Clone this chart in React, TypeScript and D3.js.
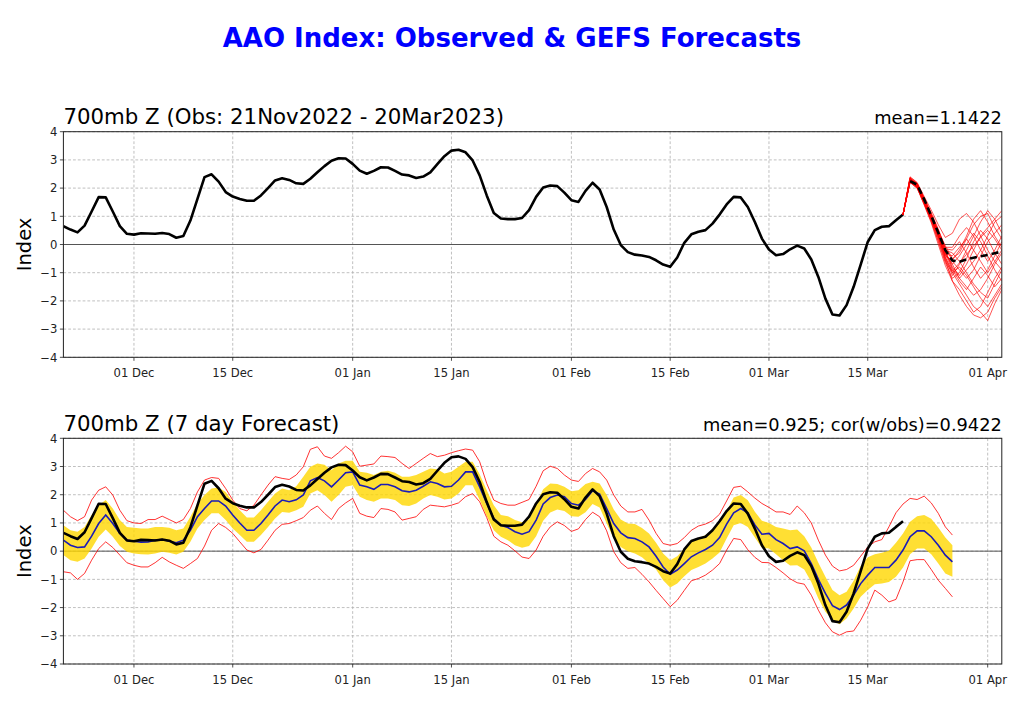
import React from "react";
import * as d3 from "d3";

// ---------------- DATA ----------------
const mainTitle = "AAO Index: Observed & GEFS Forecasts";
const topTitle = "700mb Z (Obs: 21Nov2022 - 20Mar2023)";
const topStat = "mean=1.1422";
const bottomTitle = "700mb Z (7 day Forecast)";
const bottomStat = "mean=0.925; cor(w/obs)=0.9422";
const yLabel = "Index";

const startDay = "2022-11-21"; // first data day (and left axis limit)
const endDay = "2023-04-03"; // right axis limit
const tickDays = ["2022-12-01", "2022-12-15", "2023-01-01", "2023-01-15", "2023-02-01", "2023-02-15", "2023-03-01", "2023-03-15", "2023-04-01"];
const yTicks = [-4, -3, -2, -1, 0, 1, 2, 3, 4];

// Observed daily AAO index, 21 Nov 2022 .. 20 Mar 2023
const obs = [
  0.65, 0.53, 0.43, 0.67, 1.17, 1.68, 1.67, 1.17, 0.65, 0.38,
  0.35, 0.40, 0.39, 0.38, 0.41, 0.37, 0.24, 0.30, 0.85, 1.62,
  2.39, 2.49, 2.23, 1.86, 1.70, 1.61, 1.55, 1.55, 1.74, 2.00,
  2.27, 2.35, 2.29, 2.17, 2.15, 2.33, 2.56, 2.78, 2.97, 3.06,
  3.05, 2.86, 2.62, 2.51, 2.61, 2.74, 2.73, 2.61, 2.48, 2.45,
  2.36, 2.41, 2.56, 2.85, 3.13, 3.33, 3.36, 3.27, 2.98, 2.45,
  1.74, 1.12, 0.92, 0.90, 0.90, 0.94, 1.22, 1.69, 2.02, 2.09,
  2.07, 1.84, 1.57, 1.51, 1.90, 2.19, 1.95, 1.33, 0.53, -0.02,
  -0.27, -0.36, -0.39, -0.44, -0.56, -0.71, -0.79, -0.46, 0.06, 0.36,
  0.45, 0.51, 0.74, 1.06, 1.42, 1.69, 1.67, 1.33, 0.80, 0.21,
  -0.18, -0.38, -0.34, -0.17, -0.04, -0.14, -0.53, -1.15, -1.92, -2.48,
  -2.52, -2.15, -1.50, -0.71, 0.09, 0.51, 0.63, 0.65, 0.86, 1.06,
];

// GEFS ensemble members (top panel), daily from 20 Mar 2023 .. 03 Apr 2023
const ensStartDay = "2023-03-20";
const ensMembers = [
  [1.06, 2.30, 2.15, 1.60, 1.02, 0.40, -0.25, -0.80, -1.10, -0.70, -0.20, 0.30, 0.60, 0.90, 1.20],
  [1.06, 2.25, 2.05, 1.50, 0.92, 0.30, -0.45, -1.00, -1.40, -1.80, -2.20, -2.40, -2.70, -2.10, -1.60],
  [1.06, 2.40, 2.20, 1.70, 1.22, 0.70, 0.25, 0.40, 0.90, 1.10, 0.80, 0.30, -0.20, -0.60, -0.90],
  [1.06, 2.20, 2.00, 1.45, 0.82, 0.10, -0.65, -1.20, -1.00, -0.50, 0.10, 0.50, 0.20, -0.30, -0.70],
  [1.06, 2.35, 2.10, 1.55, 1.07, 0.50, -0.05, -0.50, -0.30, 0.20, 0.70, 1.00, 1.10, 0.60, 0.20],
  [1.06, 2.28, 2.08, 1.50, 0.97, 0.35, -0.35, -0.90, -1.30, -1.60, -1.20, -0.80, -1.10, -1.50, -1.20],
  [1.06, 2.32, 2.12, 1.65, 1.12, 0.55, -0.15, -0.20, 0.10, -0.30, -0.80, -1.20, -0.90, -0.40, 0.10],
  [1.06, 2.22, 2.02, 1.40, 0.77, 0.00, -0.75, -1.30, -1.60, -2.00, -2.40, -2.20, -1.70, -1.20, -0.80],
  [1.06, 2.38, 2.18, 1.62, 1.04, 0.45, -0.30, -0.70, -0.40, 0.00, 0.40, 0.10, -0.40, -0.90, -1.30],
  [1.06, 2.26, 2.06, 1.48, 0.90, 0.25, -0.40, -0.60, -0.90, -1.20, -0.90, -0.40, 0.10, 0.40, 0.70],
  [1.06, 2.34, 2.14, 1.58, 1.00, 0.38, -0.20, -0.30, -0.60, -1.00, -1.40, -1.70, -1.90, -1.40, -0.90],
  [1.06, 2.24, 2.04, 1.52, 0.94, 0.32, -0.50, -1.10, -0.70, -0.20, 0.30, 0.80, 1.20, 0.90, 0.40],
  [1.06, 2.30, 2.10, 1.56, 0.98, 0.35, -0.35, -0.70, -1.20, -1.50, -1.80, -1.60, -1.20, -0.70, -0.30],
  [1.06, 2.36, 2.16, 1.64, 1.08, 0.48, -0.10, -0.10, 0.30, 0.60, 0.30, -0.20, -0.60, -0.20, 0.30],
  [1.06, 2.20, 2.00, 1.42, 0.84, 0.15, -0.60, -1.00, -0.80, -1.10, -1.50, -1.90, -2.20, -1.80, -1.40],
  [1.06, 2.28, 2.08, 1.54, 0.96, 0.34, -0.33, -0.40, -0.10, 0.20, -0.20, -0.60, -1.00, -0.60, -0.20],
  [1.06, 2.32, 2.12, 1.58, 1.02, 0.42, -0.23, -0.85, -1.20, -0.90, -0.60, -0.20, 0.30, 0.80, 1.00],
  [1.06, 2.26, 2.06, 1.46, 0.88, 0.22, -0.55, -1.30, -1.80, -2.20, -2.50, -2.60, -2.40, -1.90, -1.50],
  [1.06, 2.34, 2.14, 1.60, 1.04, 0.44, -0.15, -0.55, -0.20, 0.30, 0.90, 1.20, 0.80, 0.30, -0.10],
  [1.06, 2.24, 2.04, 1.48, 0.92, 0.28, -0.47, -0.95, -0.65, -0.35, -0.05, 0.25, 0.50, 0.20, -0.20],
];

// Ensemble mean (dashed), daily from 21 Mar 2023 .. 03 Apr 2023
const ensMeanStartDay = "2023-03-21";
const ensMean = [2.25, 2.12, 1.60, 1.02, 0.42, -0.20, -0.57, -0.61, -0.53, -0.47, -0.42, -0.37, -0.31, -0.25];

// 7-day forecast (bottom panel), daily from 21 Nov 2022 .. 27 Mar 2023
const fcMean = [
  0.39, 0.21, 0.13, 0.15, 0.53, 0.98, 1.28, 0.98, 0.63, 0.39,
  0.35, 0.32, 0.33, 0.39, 0.41, 0.35, 0.30, 0.39, 0.74, 1.22,
  1.51, 1.78, 1.78, 1.60, 1.28, 1.00, 0.74, 0.74, 0.98, 1.28,
  1.60, 1.81, 1.75, 1.82, 1.99, 2.49, 2.61, 2.49, 2.28, 2.52,
  2.78, 2.81, 2.34, 2.28, 2.19, 2.36, 2.36, 2.28, 2.14, 2.10,
  2.16, 2.30, 2.46, 2.40, 2.28, 2.30, 2.52, 2.81, 2.81, 2.28,
  1.69, 1.16, 0.92, 0.84, 0.69, 0.60, 0.69, 1.10, 1.67, 1.90,
  1.99, 1.93, 1.69, 1.63, 1.83, 2.14, 2.02, 1.51, 0.98, 0.65,
  0.48, 0.45, 0.33, 0.15, -0.18, -0.56, -0.82, -0.67, -0.44, -0.20,
  -0.06, 0.06, 0.21, 0.48, 0.96, 1.36, 1.51, 1.36, 0.93, 0.60,
  0.63, 0.41, 0.27, 0.09, 0.15, 0.01, -0.44, -1.00, -1.50, -1.93,
  -2.07, -1.91, -1.56, -1.15, -0.85, -0.58, -0.58, -0.58, -0.32, 0.04,
  0.51, 0.72, 0.72, 0.51, 0.21, -0.14, -0.38,
];
const fcBandUpper = [
  0.92, 0.74, 0.69, 0.86, 1.28, 1.63, 1.81, 1.51, 1.10, 0.86,
  0.83, 0.80, 0.80, 0.86, 0.86, 0.83, 0.74, 0.80, 1.22, 1.69,
  1.99, 2.22, 2.26, 2.10, 1.75, 1.45, 1.19, 1.19, 1.45, 1.75,
  2.04, 2.22, 2.16, 2.30, 2.64, 2.99, 3.11, 3.06, 2.87, 3.11,
  3.20, 3.20, 2.81, 2.78, 2.70, 2.81, 2.85, 2.78, 2.64, 2.64,
  2.70, 2.81, 2.93, 2.90, 2.75, 2.81, 2.99, 3.17, 3.17, 2.73,
  2.16, 1.63, 1.28, 1.24, 1.10, 1.02, 1.12, 1.67, 2.19, 2.40,
  2.38, 2.28, 2.12, 2.16, 2.38, 2.46, 2.40, 1.99, 1.48, 1.12,
  0.98, 0.96, 0.82, 0.63, 0.30, -0.08, -0.32, -0.18, 0.09, 0.33,
  0.45, 0.57, 0.74, 1.02, 1.42, 1.90, 1.99, 1.80, 1.40, 1.08,
  1.00, 0.86, 0.80, 0.74, 0.77, 0.53, 0.13, -0.41, -0.91, -1.38,
  -1.56, -1.44, -1.05, -0.53, -0.22, -0.11, -0.06, 0.01, 0.30, 0.63,
  1.04, 1.24, 1.28, 1.15, 0.84, 0.48, 0.21,
];
const fcBandLower = [
  -0.14, -0.32, -0.38, -0.26, 0.09, 0.51, 0.77, 0.51, 0.18, -0.02,
  -0.08, -0.11, -0.12, -0.08, -0.02, -0.06, -0.12, -0.02, 0.33, 0.80,
  1.10, 1.34, 1.34, 1.10, 0.80, 0.57, 0.33, 0.33, 0.57, 0.86,
  1.16, 1.39, 1.36, 1.45, 1.57, 2.04, 2.16, 1.99, 1.75, 1.99,
  2.28, 2.34, 1.93, 1.81, 1.75, 1.87, 1.87, 1.81, 1.63, 1.60,
  1.69, 1.87, 1.99, 1.93, 1.83, 1.87, 2.04, 2.34, 2.34, 1.81,
  1.24, 0.74, 0.51, 0.39, 0.21, 0.12, 0.18, 0.53, 1.08, 1.37,
  1.48, 1.42, 1.24, 1.22, 1.38, 1.67, 1.55, 0.98, 0.45, 0.15,
  0.00, -0.08, -0.22, -0.44, -0.65, -1.03, -1.29, -1.15, -0.89, -0.67,
  -0.56, -0.44, -0.26, -0.05, 0.45, 0.92, 1.00, 0.86, 0.48, 0.12,
  0.09, -0.11, -0.32, -0.51, -0.50, -0.65, -1.09, -1.68, -2.15, -2.45,
  -2.59, -2.39, -2.03, -1.62, -1.38, -1.17, -1.15, -1.09, -0.91, -0.58,
  -0.11, 0.09, 0.09, -0.11, -0.44, -0.79, -0.91,
];
const fcMax = [
  1.45, 1.22, 1.08, 1.22, 1.81, 2.16, 2.28, 1.99, 1.45, 1.08,
  1.00, 0.98, 1.12, 1.12, 1.24, 1.12, 1.00, 1.12, 1.51, 2.10,
  2.52, 2.61, 2.58, 2.22, 1.81, 1.51, 1.43, 1.63, 1.99, 2.34,
  2.64, 2.58, 2.54, 2.70, 2.99, 3.61, 3.70, 3.37, 3.29, 3.49,
  3.72, 3.52, 3.01, 3.05, 3.09, 3.37, 3.35, 3.32, 3.11, 2.93,
  3.11, 3.29, 3.46, 3.35, 3.40, 3.49, 3.56, 3.62, 3.58, 3.17,
  2.40, 1.81, 1.69, 1.63, 1.63, 1.73, 1.83, 2.30, 2.85, 3.01,
  2.93, 2.70, 2.52, 2.47, 2.75, 2.93, 2.81, 2.52, 1.99, 1.60,
  1.39, 1.39, 1.48, 1.10, 0.63, 0.27, 0.21, 0.27, 0.48, 0.74,
  0.89, 0.96, 1.08, 1.31, 1.78, 2.26, 2.30, 2.10, 1.88, 1.69,
  1.55, 1.39, 1.39, 1.30, 1.60, 1.36, 1.00, 0.39, -0.14, -0.53,
  -0.70, -0.65, -0.50, -0.18, 0.15, 0.33, 0.41, 0.86, 1.36, 1.67,
  1.87, 1.83, 1.95, 1.71, 1.34, 0.86, 0.57,
];
const fcMin = [
  -0.73, -0.77, -1.00, -0.79, -0.32, 0.09, 0.33, 0.13, -0.14, -0.41,
  -0.50, -0.56, -0.56, -0.41, -0.22, -0.38, -0.50, -0.61, -0.44, -0.26,
  0.18, 0.74, 0.98, 0.84, 0.63, 0.33, 0.04, -0.06, 0.06, 0.39,
  0.74, 0.95, 0.98, 1.08, 1.19, 1.45, 1.60, 1.34, 1.12, 1.51,
  1.71, 1.87, 1.34, 1.24, 1.19, 1.51, 1.48, 1.39, 1.10, 1.16,
  1.22, 1.48, 1.63, 1.60, 1.57, 1.63, 1.71, 1.93, 2.04, 1.75,
  1.19, 0.53, 0.33, 0.21, 0.01, -0.21, -0.26, 0.04, 0.53, 0.86,
  1.04, 0.91, 0.70, 0.79, 1.12, 1.38, 1.22, 0.72, -0.02, -0.41,
  -0.61, -0.58, -0.82, -1.09, -1.39, -1.68, -1.97, -1.74, -1.39, -1.05,
  -0.97, -0.85, -0.67, -0.44, 0.04, 0.45, 0.41, 0.05, -0.22, -0.40,
  -0.41, -0.58, -0.77, -0.98, -1.12, -1.17, -1.56, -2.09, -2.54, -2.86,
  -2.98, -2.86, -2.83, -2.45, -1.97, -1.38, -1.56, -1.80, -1.71, -1.09,
  -0.34, -0.30, -0.30, -0.65, -1.03, -1.32, -1.62,
];

// ---------------- LAYOUT ----------------
const W = 1024;
const H = 709;
const PLOT_LEFT = 63.4;
const PLOT_RIGHT = 1001.8;
const FONT = "DejaVu Sans, Liberation Sans, sans-serif";

const parse = d3.utcParse("%Y-%m-%d");
const fmt = d3.utcFormat("%d %b");
const dayOf = (start: string, i: number) => d3.utcDay.offset(parse(start) as Date, i);

const x = d3.scaleUtc().domain([parse(startDay) as Date, parse(endDay) as Date]).range([PLOT_LEFT, PLOT_RIGHT]);

function minusFmt(v: number) {
  return v < 0 ? "\u2212" + Math.abs(v) : String(v);
}

type PanelProps = {
  id: string;
  top: number;
  bottom: number;
  title: string;
  stat: string;
  children: (y: d3.ScaleLinear<number, number>) => React.ReactNode;
};

function Panel({ id, top, bottom, title, stat, children }: PanelProps) {
  const y = d3.scaleLinear().domain([-4, 4]).range([bottom, top]);
  const ticks = tickDays.map((t) => parse(t) as Date);
  return (
    <g>
      <defs>
        <clipPath id={id}>
          <rect x={PLOT_LEFT} y={top} width={PLOT_RIGHT - PLOT_LEFT} height={bottom - top} />
        </clipPath>
      </defs>
      {/* grid */}
      {yTicks.map((t) => (
        <line key={"gy" + t} x1={PLOT_LEFT} x2={PLOT_RIGHT} y1={y(t)} y2={y(t)} stroke="#b0b0b0" strokeWidth={0.8} strokeDasharray="2.8,2" />
      ))}
      {ticks.map((t, i) => (
        <line key={"gx" + i} x1={x(t)} x2={x(t)} y1={top} y2={bottom} stroke="#b0b0b0" strokeWidth={0.8} strokeDasharray="2.8,2" />
      ))}
      {/* zero line */}
      <line x1={PLOT_LEFT} x2={PLOT_RIGHT} y1={y(0)} y2={y(0)} stroke="#555" strokeWidth={1} />
      <g clipPath={`url(#${id})`}>{children(y)}</g>
      {/* frame */}
      <rect x={PLOT_LEFT} y={top} width={PLOT_RIGHT - PLOT_LEFT} height={bottom - top} fill="none" stroke="#222" strokeWidth={1} />
      {/* y ticks */}
      {yTicks.map((t) => (
        <g key={"yt" + t}>
          <line x1={PLOT_LEFT - 3.5} x2={PLOT_LEFT} y1={y(t)} y2={y(t)} stroke="#222" strokeWidth={0.8} />
          <text x={PLOT_LEFT - 6} y={y(t) + 4.2} textAnchor="end" fontSize={11.6} fontFamily={FONT} fill="#222">
            {minusFmt(t)}
          </text>
        </g>
      ))}
      {/* x ticks */}
      {ticks.map((t, i) => (
        <g key={"xt" + i}>
          <line x1={x(t)} x2={x(t)} y1={bottom} y2={bottom + 3.5} stroke="#222" strokeWidth={0.8} />
          <text x={x(t)} y={bottom + 19.5} textAnchor="middle" fontSize={11.6} fontFamily={FONT} fill="#222">
            {fmt(t)}
          </text>
        </g>
      ))}
      {/* titles */}
      <text x={PLOT_LEFT} y={top - 7.5} fontSize={21.3} fontFamily={FONT} fill="#000">
        {title}
      </text>
      <text x={PLOT_RIGHT} y={top - 7.5} textAnchor="end" fontSize={17.8} fontFamily={FONT} fill="#000">
        {stat}
      </text>
      <text
        transform={`translate(${31},${(top + bottom) / 2}) rotate(-90)`}
        textAnchor="middle"
        fontSize={19.5}
        fontFamily={FONT}
        fill="#000"
      >
        {yLabel}
      </text>
    </g>
  );
}

export default function App() {
  const topPanel = { top: 131.7, bottom: 357.3 };
  const botPanel = { top: 438.3, bottom: 664 };

  return (
    <svg width={W} height={H} style={{ position: "absolute", left: 0, top: 0, background: "#fff" }} xmlns="http://www.w3.org/2000/svg">
      <rect x={0} y={0} width={W} height={H} fill="#fff" />
      <text x={512} y={47} textAnchor="middle" fontSize={26} fontWeight="bold" fontFamily={FONT} fill="#0000ff">
        {mainTitle}
      </text>

      <Panel id="clipTop" top={topPanel.top} bottom={topPanel.bottom} title={topTitle} stat={topStat}>
        {(y) => {
          const lineObs = d3
            .line<number>()
            .x((_, i) => x(dayOf(startDay, i)))
            .y((d) => y(d));
          const lineEns = d3
            .line<number>()
            .x((_, i) => x(dayOf(ensStartDay, i)))
            .y((d) => y(d));
          const lineMean = d3
            .line<number>()
            .x((_, i) => x(dayOf(ensMeanStartDay, i)))
            .y((d) => y(d));
          return (
            <g>
              <path d={lineObs(obs) || ""} fill="none" stroke="#000" strokeWidth={2.6} strokeLinejoin="round" />
              {ensMembers.map((m, k) => (
                <path key={k} d={lineEns(m) || ""} fill="none" stroke="#ff0000" strokeOpacity={0.75} strokeWidth={0.9} />
              ))}
              <path d={lineMean(ensMean) || ""} fill="none" stroke="#000" strokeWidth={2.6} strokeDasharray="7,4" />
            </g>
          );
        }}
      </Panel>

      <Panel id="clipBot" top={botPanel.top} bottom={botPanel.bottom} title={bottomTitle} stat={bottomStat}>
        {(y) => {
          const xi = (_: number, i: number) => x(dayOf(startDay, i));
          const band = d3
            .area<number>()
            .x(xi)
            .y0((_, i) => y(fcBandLower[i]))
            .y1((d) => y(d));
          const line = d3.line<number>().x(xi).y((d) => y(d));
          return (
            <g>
              <path d={band(fcBandUpper) || ""} fill="#ffd700" fillOpacity={0.8} stroke="none" />
              <path d={line(fcMax) || ""} fill="none" stroke="#ff0000" strokeOpacity={0.8} strokeWidth={1} />
              <path d={line(fcMin) || ""} fill="none" stroke="#ff0000" strokeOpacity={0.8} strokeWidth={1} />
              <path d={line(fcMean) || ""} fill="none" stroke="#1a1ab8" strokeWidth={1.6} />
              <path d={line(obs) || ""} fill="none" stroke="#000" strokeWidth={2.6} strokeLinejoin="round" />
            </g>
          );
        }}
      </Panel>
    </svg>
  );
}
